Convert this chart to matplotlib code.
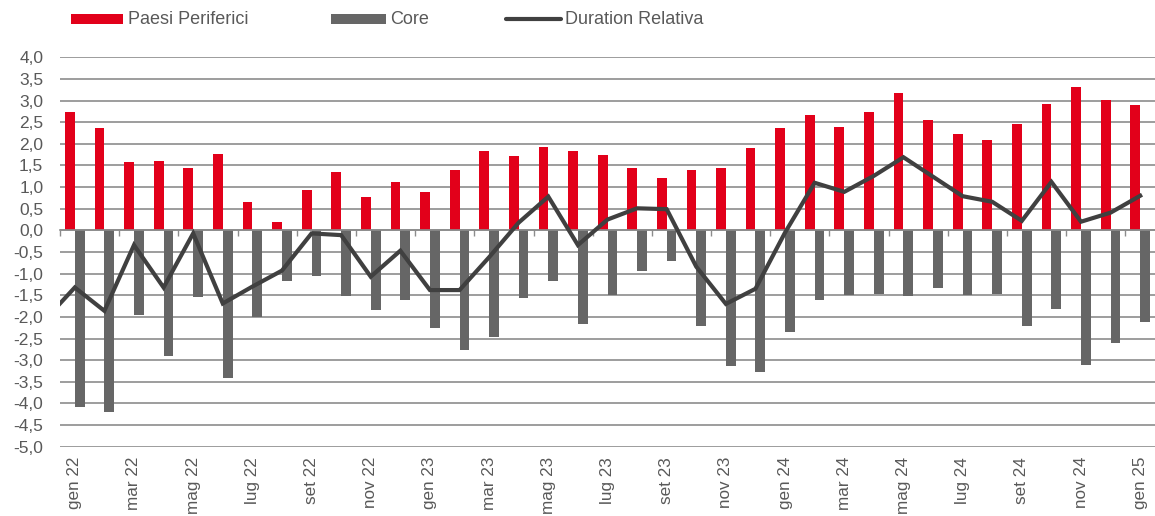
# Grafico: differenziale di duration tra paesi periferici e core (mensile, gen 22 - gen 25)

import matplotlib
matplotlib.use("Agg")
import matplotlib.pyplot as plt
import numpy as np
from matplotlib.ticker import FuncFormatter
from matplotlib.patches import Rectangle
from matplotlib.lines import Line2D


# dati
mesi = ["gen", "feb", "mar", "apr", "mag", "giu", "lug", "ago", "set", "ott", "nov", "dic"]
anni = ["22", "23", "24", "25"]

paesi_periferici = [2.74, 2.36, 1.59, 1.60, 1.45, 1.76, 0.65, 0.19, 0.93, 1.36, 0.77, 1.12,
                    0.88, 1.39, 1.83, 1.72, 1.93, 1.83, 1.75, 1.44, 1.21, 1.39, 1.44, 1.90,
                    2.36, 2.67, 2.40, 2.73, 3.17, 2.54, 2.23, 2.08, 2.45, 2.92, 3.31, 3.01,
                    2.90]

core = [-4.09, -4.19, -1.96, -2.90, -1.54, -3.42, -2.00, -1.18, -1.05, -1.51, -1.84, -1.62,
        -2.26, -2.77, -2.47, -1.56, -1.17, -2.16, -1.50, -0.93, -0.71, -2.20, -3.13, -3.28,
        -2.34, -1.60, -1.50, -1.48, -1.52, -1.34, -1.49, -1.46, -2.22, -1.81, -3.11, -2.61,
        -2.11]

# il primo valore (dic 21) serve solo per il tratto iniziale della linea
duration_dic21 = -2.06
duration_relativa = [-1.32, -1.86, -0.34, -1.32, -0.07, -1.69, -1.30, -0.93, -0.07, -0.11, -1.07, -0.47,
                     -1.38, -1.38, -0.62, 0.18, 0.78, -0.34, 0.25, 0.51, 0.49, -0.84, -1.70, -1.35,
                     -0.05, 1.10, 0.89, 1.26, 1.69, 1.24, 0.79, 0.66, 0.22, 1.12, 0.20, 0.41,
                     0.80]

# etichette mensili: gen 22 ... gen 25
etichette = []
for a in anni:
    for m in mesi:
        etichette.append(m + " " + a)
etichette = etichette[:len(paesi_periferici)]

# colori
ROSSO = "#E2001A"
GRIGIO = "#666666"
LINEA = "#404040"
GRIGLIA = "#8C8C8C"
TESTO = "#595959"

plt.rcParams["font.family"] = ["Liberation Sans", "DejaVu Sans"]

W, H = 1155, 516
fig = plt.figure(figsize=(W / 100, H / 100), dpi=100)
ax = fig.add_axes([60 / W, 69.3 / H, 1095 / W, 389.4 / H])

x = np.arange(len(paesi_periferici))
larghezza = 0.33

ax.bar(x - larghezza / 2, paesi_periferici, width=larghezza, color=ROSSO, zorder=2)
ax.bar(x + larghezza / 2, core, width=larghezza, color=GRIGIO, zorder=2)

x_linea = np.concatenate([[-1], x])
y_linea = [duration_dic21] + duration_relativa
ax.plot(x_linea, y_linea, color=LINEA, linewidth=3.0, zorder=3, solid_joinstyle="miter")

ax.set_xlim(-0.5, len(x) - 0.5)
ax.set_ylim(-5.0, 4.0)

# asse y con virgola decimale
ax.set_yticks(np.arange(-5.0, 4.01, 0.5))
ax.yaxis.set_major_formatter(FuncFormatter(lambda v, p: ("%.1f" % v).replace(".", ",")))
ax.tick_params(axis="y", length=0, pad=12, labelcolor=TESTO, labelsize=12.5)
ax.yaxis.grid(True, color=GRIGLIA, linewidth=1.2, zorder=0)
ax.set_axisbelow(True)

# asse x sullo zero, tacche ogni due mesi
for lato in ["left", "right", "top"]:
    ax.spines[lato].set_visible(False)
ax.spines["bottom"].set_position(("data", 0))
ax.spines["bottom"].set_color(GRIGLIA)
ax.spines["bottom"].set_linewidth(1.2)
ax.spines["bottom"].set_zorder(2.5)
ax.set_xticks(np.arange(-0.5, len(x) - 0.5, 2))
ax.tick_params(axis="x", direction="out", length=4, width=1, color=GRIGLIA, labelbottom=False)

# etichette mensili ruotate sotto il grafico
for i in range(0, len(x), 2):
    ax.text(i, -0.026, etichette[i], transform=ax.get_xaxis_transform(), rotation=90,
            ha="center", va="top", color=TESTO, fontsize=12.3, clip_on=False)

# legenda in alto, disegnata a mano (coordinate in pixel dall'alto)
def px(xp, yp):
    return xp / W, 1 - yp / H

fig.patches.append(Rectangle(px(71, 24), 52 / W, 10 / H, transform=fig.transFigure,
                             facecolor=ROSSO, edgecolor="none"))
fig.patches.append(Rectangle(px(331, 24), 55 / W, 10 / H, transform=fig.transFigure,
                             facecolor=GRIGIO, edgecolor="none"))
xa, ya = px(506, 19)
xb, _ = px(561, 19)
fig.lines.append(Line2D([xa, xb], [ya, ya], transform=fig.transFigure, color=LINEA,
                        linewidth=3.0, solid_capstyle="round"))

voci = [("Paesi Periferici", 128), ("Core", 390), ("Duration Relativa", 565)]
for nome, xp in voci:
    fx, fy = px(xp, 24)
    fig.text(fx, fy, nome, ha="left", va="baseline", color=TESTO, fontsize=13)

fig.savefig("out.png", dpi=100)
